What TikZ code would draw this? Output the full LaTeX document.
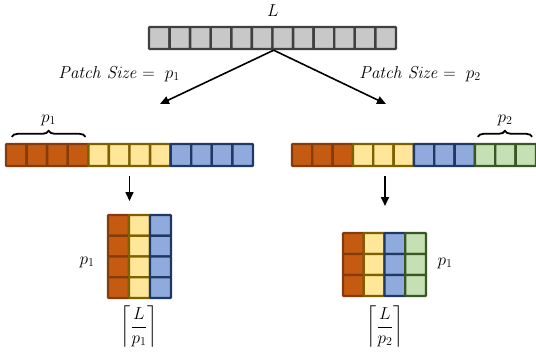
\documentclass[tikz,border=0pt]{standalone}
\usepackage{amsmath}
\usetikzlibrary{arrows.meta,decorations.pathreplacing}

\definecolor{grayfill}{HTML}{C8C8C8}
\definecolor{grayline}{HTML}{404040}
\definecolor{orfill}{HTML}{C55A11}
\definecolor{orline}{HTML}{843C0C}
\definecolor{yefill}{HTML}{FFE699}
\definecolor{yeline}{HTML}{7F6000}
\definecolor{blfill}{HTML}{8FAADC}
\definecolor{blline}{HTML}{203864}
\definecolor{grfill}{HTML}{C5E0B4}
\definecolor{grline}{HTML}{385723}

\tikzset{
  cell/.style={draw, line width=2.4pt, rounded corners=0.8pt, inner sep=0pt},
  gy/.style={cell, fill=grayfill, draw=grayline},
  or/.style={cell, fill=orfill, draw=orline},
  ye/.style={cell, fill=yefill, draw=yeline},
  bl/.style={cell, fill=blfill, draw=blline},
  gr/.style={cell, fill=grfill, draw=grline},
  split/.style={-{Triangle[length=9pt,width=8pt]}, line width=1.6pt},
  lbl/.style={font=\fontsize{17}{20}\selectfont}
}

\begin{document}
\begin{tikzpicture}[x=1pt,y=-1pt]
  \useasboundingbox (0,0) rectangle (536,353);

  % Input sequence of length L
  \node[lbl] (len) at (273,11) {$L$};
  \foreach \i in {1,...,12} {
    \node[gy, minimum width=20.6pt, minimum height=22pt] (t\i) at ({149+(\i-0.5)*20.58},38) {};
  }

  % Two patch sizes
  \coordinate (lend) at (160,104);
  \coordinate (rend) at (386,104);
  \draw[split] (t6.south east) -- (lend);
  \draw[split] (t6.south east) -- (rend);
  \node[lbl] (ps1) at (119,74) {$\mathit{Patch\ Size} = \ p_1$};
  \node[lbl] (ps2) at (420,74) {$\mathit{Patch\ Size} = \ p_2$};

  % Left: patches of size p1
  \foreach \i/\s in {1/or,2/or,3/or,4/or,5/ye,6/ye,7/ye,8/ye,9/bl,10/bl,11/bl,12/bl} {
    \node[\s, minimum width=20.6pt, minimum height=22pt] (a\i) at ({6+(\i-0.5)*20.58},155) {};
  }
  \draw[decorate, decoration={brace, amplitude=6pt}, line width=1.8pt]
    ([xshift=7pt,yshift=6pt]a1.north west) -- ([xshift=-4pt,yshift=6pt]a4.north east)
    node[midway, above=7pt, lbl] (bp1) {$p_1$};

  % Right: patches of size p2
  \foreach \i/\s in {1/or,2/or,3/or,4/ye,5/ye,6/ye,7/bl,8/bl,9/bl,10/gr,11/gr,12/gr} {
    \node[\s, minimum width=20.4pt, minimum height=22pt] (b\i) at ({292+(\i-0.5)*20.33},155) {};
  }
  \draw[decorate, decoration={brace, amplitude=6pt}, line width=1.8pt]
    ([xshift=4pt,yshift=6pt]b10.north west) -- ([xshift=-5pt,yshift=6pt]b12.north east)
    node[midway, above=7pt, lbl] (bp2) {$p_2$};

  % Reshape arrows
  \coordinate (la) at (129.5,176);
  \coordinate (lb) at (129.5,201);
  \coordinate (ra) at (385,176);
  \coordinate (rb) at (385,206);
  \draw[split] (la) -- (lb);
  \draw[split] (ra) -- (rb);

  % Left matrix: p1 rows
  \foreach \c/\s in {1/or,2/ye,3/bl} {
    \foreach \r in {1,...,4} {
      \node[\s, minimum width=21pt, minimum height=20.8pt] (m\c\r) at ({108+(\c-0.5)*21},{215+(\r-0.5)*20.75}) {};
    }
  }
  \node[lbl] (mp1) at (87,262) {$p_1$};
  \node[lbl] (mc1) at (139,327) {$\left\lceil\dfrac{L}{p_1}\right\rceil$};

  % Right matrix
  \foreach \c/\s in {1/or,2/ye,3/bl,4/gr} {
    \foreach \r in {1,...,3} {
      \node[\s, minimum width=20.8pt, minimum height=21pt] (n\c\r) at ({343+(\c-0.5)*20.75},{233+(\r-0.5)*21}) {};
    }
  }
  \node[lbl] (np1) at (445,263) {$p_1$};
  \node[lbl] (nc2) at (385,327) {$\left\lceil\dfrac{L}{p_2}\right\rceil$};
\end{tikzpicture}
\end{document}
